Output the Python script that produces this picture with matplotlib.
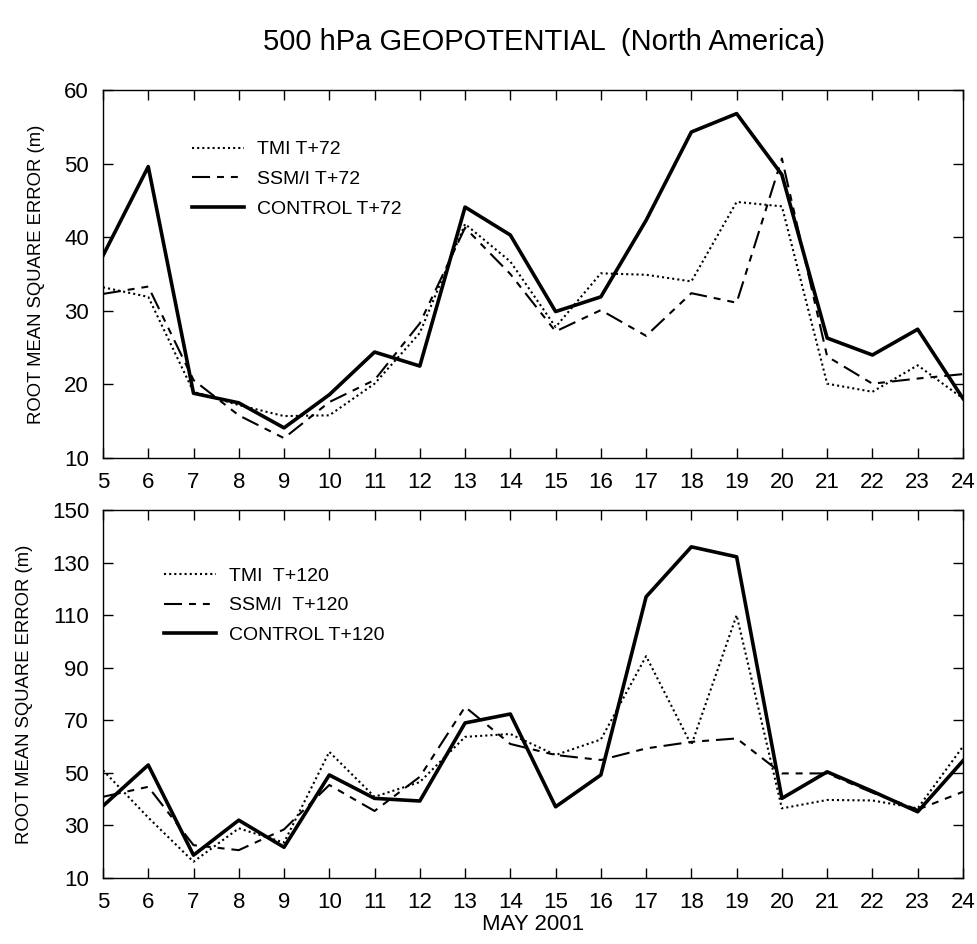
import matplotlib
matplotlib.use("Agg")
import matplotlib.pyplot as plt

plt.rcParams['font.family'] = ['Liberation Sans', 'DejaVu Sans']
plt.rcParams['lines.scale_dashes'] = False

days = list(range(5, 25))

# 500 hPa geopotential RMS error, T+72 forecasts (m)
tmi_72 = [33.2, 31.9, 19.0, 17.2, 15.7, 15.8, 20.1, 27.0, 41.8, 36.7,
          27.8, 35.1, 34.9, 34.0, 44.8, 44.2, 20.1, 19.0, 22.6, 18.1]
ssmi_72 = [32.3, 33.3, 20.6, 15.8, 12.7, 17.6, 20.6, 28.3, 41.3, 35.0,
           27.2, 30.1, 26.6, 32.4, 31.1, 50.7, 23.8, 20.1, 20.8, 21.4]
control_72 = [37.5, 49.6, 18.8, 17.5, 14.1, 18.6, 24.4, 22.5, 44.1, 40.3,
              29.9, 31.9, 42.3, 54.3, 56.8, 48.5, 26.3, 24.0, 27.5, 18.1]

# same for T+120 forecasts (m)
tmi_120 = [51.0, 33.0, 16.2, 28.9, 23.5, 58.0, 40.9, 46.5, 63.7, 64.8,
           56.8, 62.7, 94.4, 60.6, 110.0, 36.5, 39.7, 39.5, 36.5, 60.0]
ssmi_120 = [40.9, 44.7, 22.5, 20.6, 28.5, 45.4, 35.5, 48.5, 75.1, 61.0,
            56.8, 54.9, 59.3, 61.8, 63.1, 49.8, 49.8, 42.5, 36.0, 42.8]
control_120 = [37.4, 53.0, 18.7, 32.0, 21.7, 49.2, 40.3, 39.3, 69.0, 72.4,
               37.1, 49.2, 117.0, 136.0, 132.2, 40.3, 50.4, 43.0, 35.2, 54.6]

dotted = (0, (1.5, 2.2))
dashed = (0, (13, 5, 5, 5, 5, 5))

fig = plt.figure(figsize=(9.78, 9.44), dpi=100)
ax1 = fig.add_axes([0.1053, 0.5148, 0.8793, 0.3898])
ax2 = fig.add_axes([0.1053, 0.0699, 0.8793, 0.3898])

fig.text(0.556, 0.955, '500 hPa GEOPOTENTIAL  (North America)', ha='center', va='center', fontsize=21)


def panel(ax, tmi, ssmi, ctrl, lead, ylim, yticks, leg_xy):
    ax.plot(days, tmi, color='black', linestyle=dotted, linewidth=1.5, label='TMI ' + lead)
    ax.plot(days, ssmi, color='black', linestyle=dashed, linewidth=1.5, label='SSM/I ' + lead)
    ax.plot(days, ctrl, color='black', linewidth=2.6, label='CONTROL ' + lead.strip())
    ax.set_xlim(5, 24)
    ax.set_ylim(*ylim)
    ax.set_xticks(days)
    ax.set_yticks(yticks)
    ax.tick_params(direction='in', top=True, right=True, length=7, width=1,
                   labelsize=16, pad=10, colors='black')
    for s in ax.spines.values():
        s.set_linewidth(1.0)
    ax.set_ylabel('ROOT MEAN SQUARE ERROR (m)', fontsize=13.3, labelpad=13.5)
    leg = ax.legend(loc='upper left', bbox_to_anchor=leg_xy, frameon=False, fontsize=14,
                    handlelength=2.7, handletextpad=0.65, labelspacing=0.62,
                    borderpad=0, borderaxespad=0)
    return leg


panel(ax1, tmi_72, ssmi_72, control_72, 'T+72', (10, 60), range(10, 61, 10), (0.1035, 0.862))
panel(ax2, tmi_120, ssmi_120, control_120, ' T+120', (10, 150), range(10, 151, 20), (0.0709, 0.845))
ax2.set_xlabel('MAY 2001', fontsize=16, labelpad=1)

fig.savefig('out.png', dpi=100)
